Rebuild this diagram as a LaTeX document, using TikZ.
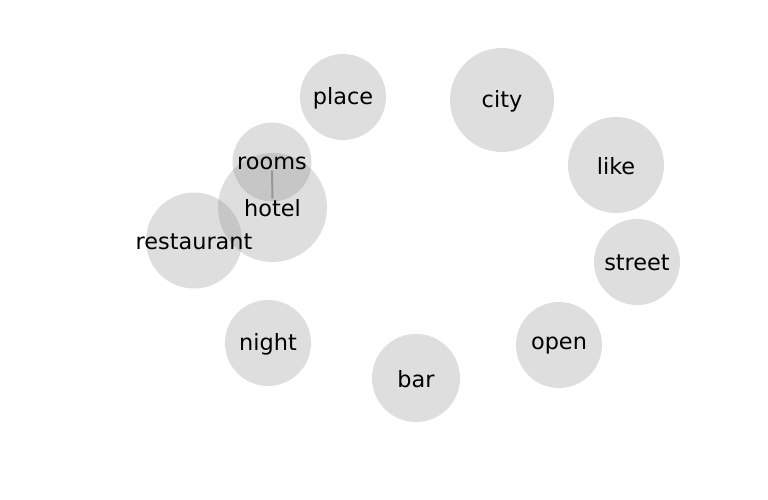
\documentclass[tikz,border=0pt]{standalone}
\usepackage{fontspec}
\setmainfont{DejaVu Sans}
\usepackage{xcolor}
\usepackage{tikz}
\usetikzlibrary{positioning}
\definecolor{bubblegray}{RGB}{128, 128, 128}
\definecolor{linkgray}{RGB}{150, 150, 150}

\begin{document}
\begin{tikzpicture}[x=1pt, y=-1pt,
    bubble/.style={circle, fill=bubblegray, fill opacity=0.26, draw=none, inner sep=0pt},
    word/.style={font=\fontsize{22.4}{26}\selectfont, text=black, inner sep=1pt, yshift=-1pt}]
    \useasboundingbox (0,0) rectangle (768,500);

    % Word bubbles
    \node[bubble, minimum size=86pt] (place) at (343, 97) {};
    \node[bubble, minimum size=104pt] (city) at (502, 100) {};
    \node[bubble, minimum size=96pt] (like) at (616, 165) {};
    \node[bubble, minimum size=86pt] (street) at (637, 262) {};
    \node[bubble, minimum size=86pt] (open) at (559, 345) {};
    \node[bubble, minimum size=88pt] (bar) at (416, 378) {};
    \node[bubble, minimum size=86pt] (night) at (268, 343) {};
    \node[bubble, minimum size=96pt] (restaurant) at (194, 240.5) {};
    \node[bubble, minimum size=109pt] (hotel) at (272.5, 207.5) {};
    \node[bubble, minimum size=79pt] (rooms) at (272, 162) {};

    % Labels
    \node[word] (placeword) at (place) {place};
    \node[word] (cityword) at (city) {city};
    \node[word] (likeword) at (like) {like};
    \node[word] (streetword) at (street) {street};
    \node[word] (openword) at (open) {open};
    \node[word] (barword) at (bar) {bar};
    \node[word] (nightword) at (night) {night};
    \node[word] (restaurantword) at (restaurant) {restaurant};
    \node[word] (hotelword) at (hotel) {hotel};
    \node[word] (roomsword) at (rooms) {rooms};

    % Link between co-occurring words
    \draw[linkgray, line width=2pt] (roomsword) -- (hotelword);
\end{tikzpicture}
\end{document}
